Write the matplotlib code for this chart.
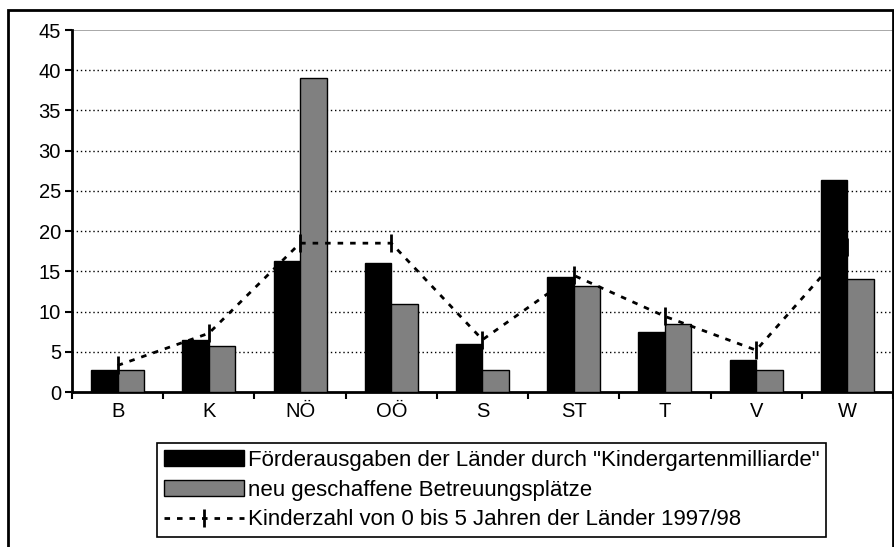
import numpy as np
import matplotlib.pyplot as plt
from matplotlib.patches import Rectangle

plt.rcParams['font.family'] = ['Liberation Sans', 'DejaVu Sans']

# Daten
laender = ['B', 'K', 'NÖ', 'OÖ', 'S', 'ST', 'T', 'V', 'W']
foerderung = [2.7, 6.5, 16.3, 16.0, 6.0, 14.3, 7.5, 4.0, 26.3]
plaetze = [2.7, 5.7, 39.0, 11.0, 2.7, 13.2, 8.5, 2.7, 14.0]
kinderzahl = [3.3, 7.3, 18.5, 18.5, 6.5, 14.5, 9.4, 5.2, 18.0]
y_ticks = [0, 5, 10, 15, 20, 25, 30, 35, 40, 45]

lab_foerd = 'Förderausgaben der Länder durch "Kindergartenmilliarde"'
lab_plaetze = 'neu geschaffene Betreuungsplätze'
lab_kinder = 'Kinderzahl von 0 bis 5 Jahren der Länder 1997/98'

fig = plt.figure(figsize=(8.95, 5.47), dpi=100)
ax = fig.add_axes([72/895, 1-392/547, (893-72)/895, (392-30)/547])

x = np.arange(len(laender))
w = 0.29
b1 = ax.bar(x - w/2, foerderung, w, color='black', edgecolor='black', linewidth=1,
            label=lab_foerd, zorder=3)
b2 = ax.bar(x + w/2, plaetze, w, color='#808080', edgecolor='black', linewidth=1,
            label=lab_plaetze, zorder=3)
l1, = ax.plot(x, kinderzahl, color='black', linestyle=(0, (2, 2.5)), linewidth=2,
              marker='|', markersize=13, markeredgewidth=2, label=lab_kinder, zorder=4)

ax.set_xlim(-0.5, len(laender) - 0.5)
ax.set_ylim(0, 45)
ax.set_yticks(y_ticks)
ax.tick_params(axis='y', direction='out', length=5, width=1.5, labelsize=14.5, pad=3)

# Ticks an den Kategoriegrenzen, Beschriftung in der Mitte
ax.set_xticks(np.arange(len(laender) + 1) - 0.5)
ax.set_xticklabels([])
ax.set_xticks(x, minor=True)
ax.set_xticklabels(laender, minor=True)
ax.tick_params(axis='x', which='major', direction='out', length=5, width=1.5)
ax.tick_params(axis='x', which='minor', length=0, labelsize=14.5, pad=7)

for v in y_ticks[1:-1]:
    ax.axhline(v, color='black', linestyle=(0, (1, 2)), linewidth=1, zorder=1)
ax.axhline(45, color='#999999', linewidth=1.2, zorder=1)

for s in ['top', 'right']:
    ax.spines[s].set_visible(False)
ax.spines['left'].set_linewidth(2)
ax.spines['bottom'].set_linewidth(2)

leg = ax.legend([b1, b2, l1], [lab_foerd, lab_plaetze, lab_kinder],
                loc='upper left', bbox_to_anchor=(157/895, 1-443/547),
                bbox_transform=fig.transFigure, borderaxespad=0, fontsize=16,
                fancybox=False, edgecolor='black', framealpha=1,
                handlelength=3.6, handleheight=0.7, handletextpad=0.2,
                labelspacing=0.4, numpoints=1, borderpad=0.3)
leg.get_frame().set_linewidth(1.2)

# Rahmen um das ganze Diagramm
fig.patches.append(Rectangle((8/895, -0.1), 885/895, 1.1 - 10/547,
                             transform=fig.transFigure, fill=False,
                             edgecolor='black', linewidth=2))

fig.savefig('out.png', dpi=100)
